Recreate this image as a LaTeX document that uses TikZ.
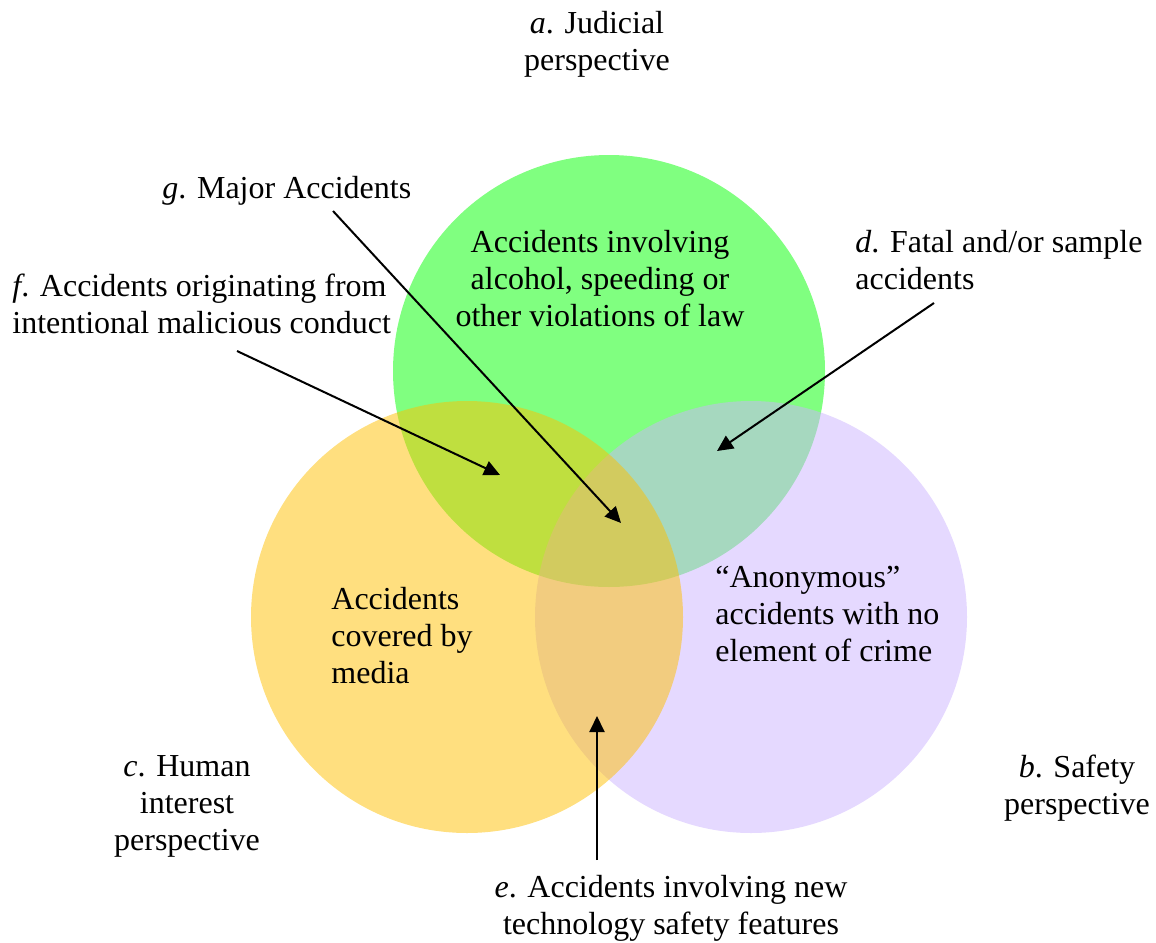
\documentclass[tikz,border=0pt]{standalone}
\usepackage{fontspec}
\setmainfont{Liberation Serif}
\usetikzlibrary{arrows.meta}
\definecolor{lawgreen}{HTML}{80FF80}
\definecolor{mediagold}{HTML}{FFC000}
\definecolor{safetylilac}{HTML}{CCB3FF}

\begin{document}
\begin{tikzpicture}
  [x=0.5pt,y=-0.5pt,
   >={Triangle[length=8pt,width=7.5pt]},
   region/.style={circle,minimum size=216pt,inner sep=0,outer sep=0},
   persp/.style={align=center,inner sep=0,
                 font=\fontsize{16}{18.5}\selectfont},
   flush/.style={align=left,inner sep=0,anchor=west,
                 font=\fontsize{16}{18.5}\selectfont},
   pointer/.style={line width=1pt,->}]
  \useasboundingbox (0,0) rectangle (1156,942);
%  the three perspectives
  \node[region,fill=lawgreen] (judicial) at (609,371) {};
  \node[region,fill=safetylilac,fill opacity=0.5] (safety) at (751,617) {};
  \node[region,fill=mediagold,fill opacity=0.5] (human) at (467,617) {};
  \node[persp] (lawtext) at (600,279) {Accidents involving\\alcohol, speeding or\\other violations of law};
  \node[flush] (mediatext) at (331,636) {Accidents\\covered by\\media};
  \node[flush] (anontext) at (715,614) {“Anonymous”\\accidents with no\\element of crime};
%  outer labels
  \node[persp] (a) at (597,44) {\emph{a}. Judicial\\perspective};
  \node[persp] (b) at (1077,788) {\emph{b}. Safety\\perspective};
  \node[persp] (c) at (187,806) {\emph{c}. Human\\interest\\perspective};
  \node[flush] (d) at (855,260) {\emph{d}. Fatal and/or sample\\accidents};
  \node[persp] (e) at (671,908) {\emph{e}. Accidents involving new\\technology safety features};
  \node[flush] (f) at (12,304) {\emph{f}. Accidents originating from\\intentional malicious conduct};
  \node[flush] (g) at (162,191) {\emph{g}. Major Accidents};
  \coordinate (ftail) at (237,351);
  \coordinate (fhead) at (500,475);
  \coordinate (gtail) at (333,211);
  \coordinate (ghead) at (621,523);
  \coordinate (dtail) at (934,303);
  \coordinate (dhead) at (717,451);
  \coordinate (etail) at (597,860);
  \coordinate (ehead) at (597,716);
  \draw[pointer] (ftail) to (fhead);
  \draw[pointer] (gtail) to (ghead);
  \draw[pointer] (dtail) to (dhead);
  \draw[pointer] (etail) to (ehead);
\end{tikzpicture}
\end{document}
